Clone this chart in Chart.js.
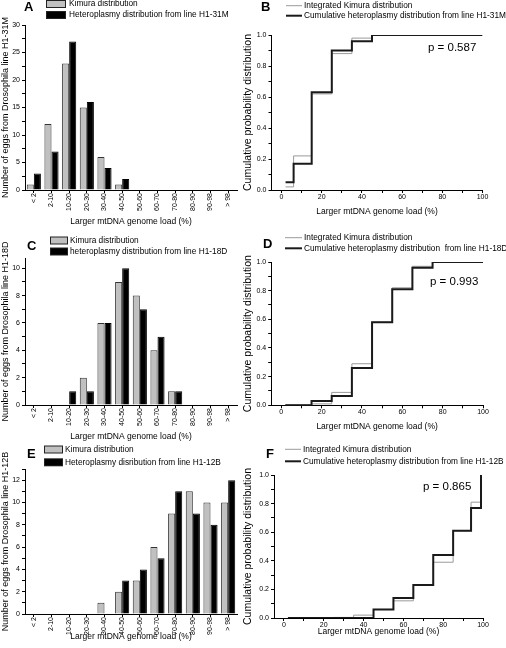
<!DOCTYPE html>
<html>
<head>
<meta charset="utf-8">
<script src="https://cdn.jsdelivr.net/npm/chart.js@4.4.0/dist/chart.umd.min.js"></script>
<style>
  html, body { margin: 0; padding: 0; background: #fff; }
  #fig { position: relative; width: 506px; height: 648px; overflow: hidden; }
  #fig canvas { position: absolute; }
</style>
</head>
<body>
<div id="fig"></div>
<script>
// load bins on the x axis of the histograms
const loadBins = ['< 2', '2-10', '10-20', '20-30', '30-40', '40-50', '50-60', '60-70', '70-80', '80-90', '90-98', '> 98'];

// A: line H1-31M (counts of eggs)
const kimuraA = [1, 12, 23, 15, 6, 1, 0, 0, 0, 0, 0, 0];
const heteroA = [3, 7, 27, 16, 4, 2, 0, 0, 0, 0, 0, 0];
// C: line H1-18D
const kimuraC = [0, 0, 0, 2, 6, 9, 8, 4, 1, 0, 0, 0];
const heteroC = [0, 0, 1, 1, 6, 10, 7, 5, 1, 0, 0, 0];
// E: line H1-12B
const kimuraE = [0, 0, 0, 0, 1, 2, 3, 6, 9, 11, 10, 10];
const heteroE = [0, 0, 0, 0, 0, 3, 4, 5, 11, 9, 8, 12];

// cumulative panels: x where each step starts, and the cumulative value
const stepsB = [2, 6, 15, 25, 35, 45, 100];
const kimuraCdfB = [0.02, 0.22, 0.62, 0.88, 0.98, 1.0, 1.0];
const heteroCdfB = [0.05, 0.17, 0.63, 0.90, 0.96, 1.0, 1.0];

const stepsD = [2, 15, 25, 35, 45, 55, 65, 75, 100];
const kimuraCdfD = [0.003, 0.01, 0.09, 0.29, 0.58, 0.82, 0.97, 1.0, 1.0];
const heteroCdfD = [0, 0.03, 0.065, 0.26, 0.58, 0.81, 0.96, 1.0, 1.0];

const stepsF = [2, 25, 35, 45, 55, 65, 75, 85, 94, 99];
const kimuraCdfF = [0, 0.004, 0.02, 0.06, 0.12, 0.23, 0.39, 0.61, 0.81, 1.0];
const heteroCdfF = [0, 0, 0, 0.06, 0.14, 0.23, 0.44, 0.61, 0.77, 1.0];

// tick labels
const countTicksA = [0, 5, 10, 15, 20, 25, 30];
const countTicksC = [0, 2, 4, 6, 8, 10];
const countTicksE = [0, 2, 4, 6, 8, 10, 12];
const cdfTicksY = [0, 0.2, 0.4, 0.6, 0.8, 1.0];
const cdfTicksX = [0, 20, 40, 60, 80, 100];

const FONT = "'Liberation Sans', Arial, sans-serif";
const X_TITLE = 'Larger mtDNA genome load (%)';

// letters, keys and p values drawn on top of each panel
const decor = {
    id: 'decor',
    afterDraw(chart, args, o) {
        const ctx = chart.ctx;
        ctx.save();
        ctx.textBaseline = 'middle';
        ctx.fillStyle = '#000';
        ctx.font = 'bold 13px ' + FONT;
        ctx.fillText(o.letter, o.letterX, o.letterY);
        ctx.font = '8.3px ' + FONT;
        chart.data.datasets.forEach((ds, i) => {
            const y = o.keyY[i];
            if (o.keyType === 'box') {
                ctx.fillStyle = '#222';
                ctx.fillRect(o.keyX, y - 4, o.keyW, 8);
                ctx.fillStyle = ds.backgroundColor;
                ctx.fillRect(o.keyX + 1, y - 3, o.keyW - 2, 6);
            } else {
                ctx.strokeStyle = ds.borderColor;
                ctx.lineWidth = ds.borderWidth;
                ctx.beginPath();
                ctx.moveTo(o.keyX, y);
                ctx.lineTo(o.keyX + o.keyW, y);
                ctx.stroke();
            }
            ctx.fillStyle = '#000';
            ctx.fillText(ds.label, o.textX, y);
        });
        if (o.p) {
            ctx.font = '11.5px ' + FONT;
            ctx.fillText(o.p, o.pX, o.pY);
        }
        ctx.restore();
    }
};

function makeCanvas(box) {
    const c = document.createElement('canvas');
    c.width = box.w;
    c.height = box.h;
    c.style.left = box.x + 'px';
    c.style.top = box.y + 'px';
    c.style.width = box.w + 'px';
    c.style.height = box.h + 'px';
    document.getElementById('fig').appendChild(c);
    return c.getContext('2d');
}

// majors plus a minor tick half way between them
function withMinor(majors, max) {
    const out = [];
    for (let i = 0; i < majors.length; i++) {
        out.push(majors[i]);
        if (i < majors.length - 1) out.push((majors[i] + majors[i + 1]) / 2);
    }
    const half = (majors[1] - majors[0]) / 2;
    const last = majors[majors.length - 1];
    if (last + half <= max + 1e-9) out.push(last + half);
    return out;
}

function valueAxis(area, min, max, majors, fmt, title, titleSize, titlePad) {
    return {
        type: 'linear',
        min: min,
        max: max,
        afterFit: s => { s.width = area.left; },
        afterBuildTicks: s => { s.ticks = withMinor(majors, max).map(v => ({ value: v })); },
        ticks: {
            autoSkip: false,
            callback: v => majors.includes(v) ? fmt(v) : '',
            font: { size: 7, family: FONT },
            color: '#000',
            padding: 2
        },
        grid: { drawOnChartArea: false, tickLength: 3, color: '#000' },
        border: { color: '#000', width: 1 },
        title: {
            display: true,
            text: title,
            color: '#000',
            font: { size: titleSize, family: FONT },
            padding: { top: titlePad, bottom: 0 }
        }
    };
}

function xTitle(pad) {
    return {
        display: true,
        text: X_TITLE,
        color: '#000',
        font: { size: 8.5, family: FONT },
        padding: { top: 0, bottom: pad }
    };
}

function barPanel(p) {
    const ctx = makeCanvas(p.box);
    new Chart(ctx, {
        type: 'bar',
        data: {
            labels: loadBins,
            datasets: [
                { label: p.labels[0], data: p.kimura, backgroundColor: '#c0c0c0', borderColor: '#333', borderWidth: 1 },
                { label: p.labels[1], data: p.hetero, backgroundColor: '#000', borderColor: '#000', borderWidth: 1 }
            ]
        },
        options: {
            responsive: false,
            animation: false,
            categoryPercentage: 0.8,
            barPercentage: 1.0,
            layout: { padding: { left: 0, top: p.area.top, right: p.box.w - p.area.right, bottom: 0 } },
            plugins: { legend: { display: false }, tooltip: { enabled: false }, decor: p.decor },
            scales: {
                x: {
                    type: 'category',
                    offset: true,
                    afterFit: s => { s.height = p.box.h - p.area.bottom; },
                    ticks: { autoSkip: false, minRotation: 90, maxRotation: 90, font: { size: 7, family: FONT }, color: '#000', padding: 0 },
                    grid: { offset: false, drawOnChartArea: false, tickLength: 3, color: '#000' },
                    border: { color: '#000', width: 1 },
                    title: xTitle(p.xPad)
                },
                y: valueAxis(p.area, 0, p.yMax, p.yTicks, v => String(v), p.yTitle, 9, p.yPad)
            }
        },
        plugins: [decor]
    });
}

function cdfPanel(p) {
    const ctx = makeCanvas(p.box);
    const pts = ys => p.steps.map((x, i) => ({ x: x, y: ys[i] }));
    new Chart(ctx, {
        type: 'line',
        data: {
            datasets: [
                { label: p.labels[0], data: pts(p.kimura), borderColor: '#9a9a9a', borderWidth: 1, stepped: true, pointRadius: 0, order: 1 },
                { label: p.labels[1], data: pts(p.hetero), borderColor: '#1a1a1a', borderWidth: 2, stepped: true, pointRadius: 0, order: 0 }
            ]
        },
        options: {
            responsive: false,
            animation: false,
            layout: { padding: { left: 0, top: p.area.top, right: p.box.w - p.area.right, bottom: 0 } },
            plugins: { legend: { display: false }, tooltip: { enabled: false }, decor: p.decor },
            scales: {
                x: {
                    type: 'linear',
                    min: -5,
                    max: 100,
                    afterFit: s => { s.height = p.box.h - p.area.bottom; },
                    afterBuildTicks: s => { s.ticks = withMinor(cdfTicksX, 100).map(v => ({ value: v })); },
                    ticks: {
                        autoSkip: false,
                        maxRotation: 0,
                        callback: v => cdfTicksX.includes(v) ? String(v) : '',
                        font: { size: 7, family: FONT },
                        color: '#000',
                        padding: 0
                    },
                    grid: { drawOnChartArea: false, tickLength: 3, color: '#000' },
                    border: { color: '#000', width: 1 },
                    title: xTitle(p.xPad)
                },
                y: valueAxis(p.area, 0, 1, cdfTicksY, v => v.toFixed(1), 'Cumulative probability distribution', 10.5, p.yPad)
            }
        },
        plugins: [decor]
    });
}

barPanel({
    box: { x: 0, y: 0, w: 253, h: 230 },
    area: { left: 25, top: 25, right: 237, bottom: 190 },
    kimura: kimuraA, hetero: heteroA,
    labels: ['Kimura distribution', 'Heteroplasmy distribution from line H1-31M'],
    yMax: 30, yTicks: countTicksA,
    yTitle: 'Number of eggs from Drosophila line H1-31M', yPad: 0.1, xPad: 2.9,
    decor: { letter: 'A', letterX: 24, letterY: 7.5, keyType: 'box', keyX: 46, keyW: 20, textX: 69, keyY: [4, 15] }
});

barPanel({
    box: { x: 0, y: 216, w: 253, h: 230 },
    area: { left: 25, top: 42, right: 237, bottom: 189 },
    kimura: kimuraC, hetero: heteroC,
    labels: ['Kimura distribution', 'heteroplasmy distribution from line H1-18D'],
    yMax: 10.75, yTicks: countTicksC,
    yTitle: 'Number of eggs from Drosophila line H1-18D', yPad: 0.1, xPad: 3.9,
    decor: { letter: 'C', letterX: 27, letterY: 30, keyType: 'box', keyX: 50, keyW: 18, textX: 70, keyY: [24.5, 35.5] }
});

barPanel({
    box: { x: 0, y: 432, w: 253, h: 216 },
    area: { left: 25, top: 37, right: 237, bottom: 182 },
    kimura: kimuraE, hetero: heteroE,
    labels: ['Kimura distribution', 'Heteroplasmy disribution from line H1-12B'],
    yMax: 13, yTicks: countTicksE,
    yTitle: 'Number of eggs from Drosophila line H1-12B', yPad: 0.1, xPad: 5.9,
    decor: { letter: 'E', letterX: 27, letterY: 22, keyType: 'box', keyX: 44, keyW: 19, textX: 65, keyY: [17.5, 30.3] }
});

cdfPanel({
    box: { x: 240, y: 0, w: 266, h: 220 },
    area: { left: 31.5, top: 35, right: 242.5, bottom: 190 },
    steps: stepsB, kimura: kimuraCdfB, hetero: heteroCdfB,
    labels: ['Integrated Kimura distribution', 'Cumulative heteroplasmy distribution from line H1-31M'],
    yPad: 2, xPad: 3.2,
    decor: { letter: 'B', letterX: 21, letterY: 7.5, keyType: 'line', keyX: 46, keyW: 16, textX: 64, keyY: [5.7, 15.7],
             p: 'p = 0.587', pX: 188, pY: 48 }
});

cdfPanel({
    box: { x: 240, y: 216, w: 266, h: 220 },
    area: { left: 31.2, top: 46, right: 243, bottom: 189.3 },
    steps: stepsD, kimura: kimuraCdfD, hetero: heteroCdfD,
    labels: ['Integrated Kimura distribution', 'Cumulative heteroplasmy distribution  from line H1-18D'],
    yPad: 2, xPad: 4.2,
    decor: { letter: 'D', letterX: 23, letterY: 28, keyType: 'line', keyX: 45, keyW: 17, textX: 64, keyY: [21.7, 32.3],
             p: 'p = 0.993', pX: 190, pY: 65.7 }
});

cdfPanel({
    box: { x: 240, y: 432, w: 266, h: 216 },
    area: { left: 34, top: 43, right: 243, bottom: 186 },
    steps: stepsF, kimura: kimuraCdfF, hetero: heteroCdfF,
    labels: ['Integrated Kimura distribution', 'Cumulative heteroplasmy distribution from line H1-12B'],
    yPad: 2, xPad: 10.9,
    decor: { letter: 'F', letterX: 26, letterY: 22, keyType: 'line', keyX: 45, keyW: 16, textX: 63, keyY: [17.3, 29.3],
             p: 'p = 0.865', pX: 183, pY: 55 }
});
</script>
</body>
</html>
